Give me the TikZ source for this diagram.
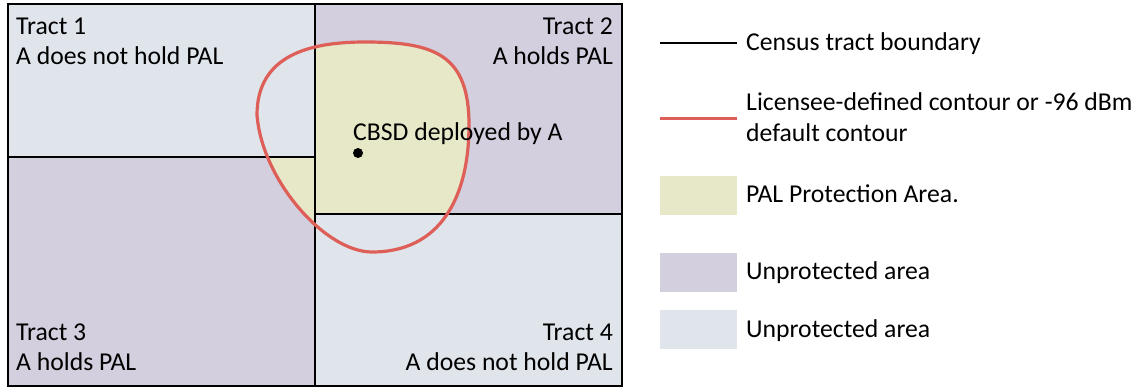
\documentclass[tikz,border=0pt]{standalone}
\usepackage{fontspec}
\setmainfont{Carlito}
\definecolor{tractblue}{RGB}{224,229,236}
\definecolor{tractlav}{RGB}{211,207,222}
\definecolor{palyellow}{RGB}{230,232,200}
\definecolor{contourred}{RGB}{222,94,88}
\tikzset{
  lbl/.style={inner sep=0pt, font=\fontsize{25.7}{30}\selectfont},
  bnd/.style={draw=black, line width=1.4pt},
  contour/.style={draw=contourred, line width=3.2pt},
}
\begin{document}
\begin{tikzpicture}[x=1pt,y=-1pt]
\useasboundingbox (0,0) rectangle (1136,387);
% tracts
\fill[tractblue] (8,4) rectangle (315,157);
\fill[tractlav] (315,4) rectangle (622,214);
\fill[tractlav] (8,157) rectangle (315,386);
\fill[tractblue] (315,214) rectangle (622,386);
% contour path
\def\contourpath{(365,42) .. controls (435,42) and (469,55) .. (469,125)
  .. controls (469,198) and (440,252) .. (372,252)
  .. controls (325,252) and (262,180) .. (257,115)
  .. controls (257,55) and (310,42) .. (365,42) -- cycle}
% PAL protection area
\begin{scope}
  \clip (315,4) rectangle (622,214) (8,157) rectangle (315,386);
  \fill[palyellow] \contourpath;
\end{scope}
% boundaries
\draw[bnd] (8,4) rectangle (622,386);
\draw[bnd] (315,4) -- (315,386);
\draw[bnd] (8,157) -- (315,157);
\draw[bnd] (315,214) -- (622,214);
% contour
\draw[contour] \contourpath;
% CBSD
\fill[black] (358,153) circle (5);
\node[lbl, anchor=base west] (cbsd) at (353,141) {CBSD deployed by A};
% tract labels
\node[lbl, anchor=base west] (t1a) at (16,35) {Tract 1};
\node[lbl, anchor=base west] (t1b) at (16,65) {A does not hold PAL};
\node[lbl, anchor=base east] (t2a) at (613,35) {Tract 2};
\node[lbl, anchor=base east] (t2b) at (613,65) {A holds PAL};
\node[lbl, anchor=base west] (t3a) at (16,341) {Tract 3};
\node[lbl, anchor=base west] (t3b) at (16,371) {A holds PAL};
\node[lbl, anchor=base east] (t4a) at (613,341) {Tract 4};
\node[lbl, anchor=base east] (t4b) at (613,371) {A does not hold PAL};
% legend
\coordinate (l1a) at (660,43); \coordinate (l1b) at (737,43);
\draw[black, line width=1.2pt] (l1a) -- (l1b);
\node[lbl, anchor=base west] (lg1) at (746,51) {Census tract boundary};
\coordinate (l2a) at (660,119); \coordinate (l2b) at (737,119);
\draw[contourred, line width=3pt] (l2a) -- (l2b);
\node[lbl, anchor=base west] (lg2a) at (746,111) {Licensee-defined contour or -96 dBm};
\node[lbl, anchor=base west] (lg2b) at (746,142) {default contour};
\fill[palyellow] (660,176) rectangle (737,215);
\node[lbl, anchor=base west] (lg3) at (746,203) {PAL Protection Area.};
\fill[tractlav] (660,253) rectangle (737,292);
\node[lbl, anchor=base west] (lg4) at (746,280) {Unprotected area};
\fill[tractblue] (660,310) rectangle (737,349);
\node[lbl, anchor=base west] (lg5) at (746,338) {Unprotected area};
\end{tikzpicture}
\end{document}
